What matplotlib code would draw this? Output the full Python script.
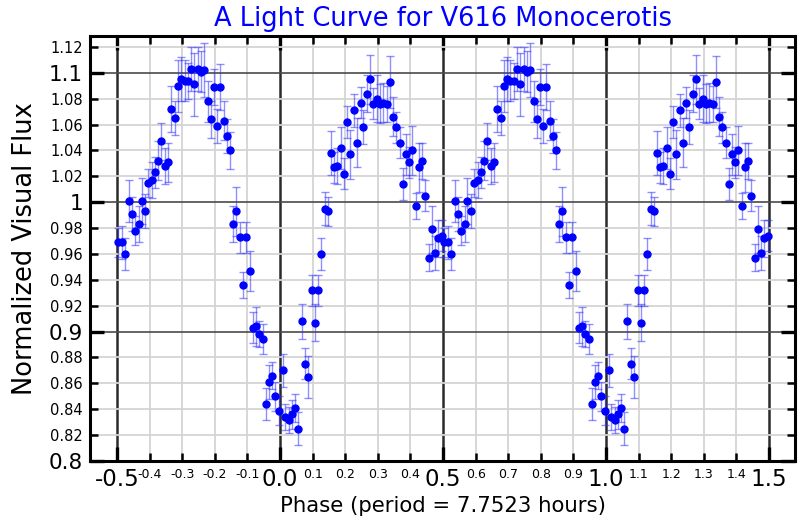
import numpy as np
import matplotlib
matplotlib.use("Agg")
import matplotlib.pyplot as plt
from matplotlib.ticker import FixedLocator, FixedFormatter

# ---- data: one period of the folded light curve (phase, flux, error) ----
phase = [0.008, 0.016, 0.027, 0.037, 0.046, 0.056, 0.066, 0.077, 0.087, 0.097,
         0.107, 0.117, 0.127, 0.137, 0.147, 0.157, 0.166, 0.176, 0.187, 0.196,
         0.206, 0.216, 0.226, 0.237, 0.247, 0.256, 0.266, 0.276, 0.286, 0.297,
         0.307, 0.317, 0.328, 0.337, 0.347, 0.357, 0.367, 0.377, 0.387, 0.396,
         0.406, 0.416, 0.426, 0.436, 0.445, 0.456, 0.466, 0.476, 0.486, 0.496,
         0.504, 0.514, 0.524, 0.536, 0.545, 0.556, 0.566, 0.575, 0.586, 0.596,
         0.606, 0.616, 0.626, 0.636, 0.647, 0.656, 0.666, 0.677, 0.687, 0.697,
         0.707, 0.717, 0.727, 0.737, 0.747, 0.757, 0.767, 0.778, 0.787, 0.797,
         0.807, 0.817, 0.827, 0.837, 0.847, 0.856, 0.866, 0.876, 0.886, 0.897,
         0.907, 0.916, 0.926, 0.936, 0.947, 0.956, 0.966, 0.976, 0.986, 0.996]
flux = [0.870, 0.834, 0.832, 0.836, 0.841, 0.825, 0.908, 0.875, 0.865, 0.932,
        0.907, 0.932, 0.960, 0.995, 0.993, 1.038, 1.027, 1.028, 1.042, 1.022,
        1.062, 1.037, 1.071, 1.046, 1.077, 1.058, 1.084, 1.095, 1.076, 1.080,
        1.076, 1.077, 1.076, 1.093, 1.066, 1.058, 1.046, 1.014, 1.037, 1.031,
        1.040, 0.997, 1.027, 1.032, 1.005, 0.957, 0.979, 0.961, 0.972, 0.974,
        0.969, 0.969, 0.960, 1.001, 0.991, 0.978, 0.983, 1.001, 0.993, 1.015,
        1.017, 1.023, 1.032, 1.047, 1.028, 1.031, 1.072, 1.065, 1.090, 1.095,
        1.094, 1.094, 1.103, 1.091, 1.103, 1.101, 1.102, 1.078, 1.064, 1.089,
        1.059, 1.089, 1.063, 1.051, 1.040, 0.983, 0.993, 0.973, 0.936, 0.973,
        0.947, 0.903, 0.904, 0.898, 0.894, 0.844, 0.861, 0.866, 0.850, 0.839]
err = [0.013, 0.010, 0.010, 0.011, 0.011, 0.0125, 0.0135, 0.012, 0.016, 0.012,
       0.014, 0.012, 0.0125, 0.0127, 0.011, 0.017, 0.012, 0.014, 0.016, 0.012,
       0.012, 0.019, 0.013, 0.019, 0.012, 0.013, 0.014, 0.019, 0.012, 0.018,
       0.015, 0.015, 0.014, 0.020, 0.015, 0.012, 0.012, 0.0125, 0.016, 0.012,
       0.019, 0.010, 0.019, 0.014, 0.012, 0.0105, 0.018, 0.013, 0.014, 0.012,
       0.011, 0.013, 0.012, 0.016, 0.013, 0.011, 0.014, 0.018, 0.013, 0.011,
       0.014, 0.012, 0.015, 0.014, 0.014, 0.015, 0.018, 0.013, 0.020, 0.017,
       0.016, 0.014, 0.017, 0.024, 0.017, 0.016, 0.021, 0.016, 0.014, 0.014,
       0.013, 0.018, 0.015, 0.013, 0.014, 0.014, 0.019, 0.012, 0.010, 0.012,
       0.0155, 0.012, 0.015, 0.010, 0.0115, 0.0127, 0.013, 0.0105, 0.011, 0.011]

x_major = [-0.5, 0.0, 0.5, 1.0, 1.5]
x_major_labels = ["-0.5", "0.0", "0.5", "1.0", "1.5"]
x_minor = [-0.4, -0.3, -0.2, -0.1, 0.1, 0.2, 0.3, 0.4, 0.6, 0.7, 0.8, 0.9,
           1.1, 1.2, 1.3, 1.4]
x_minor_labels = ["-0.4", "-0.3", "-0.2", "-0.1", "0.1", "0.2", "0.3", "0.4",
                  "0.6", "0.7", "0.8", "0.9", "1.1", "1.2", "1.3", "1.4"]
y_major = [0.8, 0.9, 1.0, 1.1]
y_major_labels = ["0.8", "0.9", "1", "1.1"]
y_minor = [0.82, 0.84, 0.86, 0.88, 0.92, 0.94, 0.96, 0.98, 1.02, 1.04, 1.06,
           1.08, 1.12]
y_minor_labels = ["0.82", "0.84", "0.86", "0.88", "0.92", "0.94", "0.96",
                  "0.98", "1.02", "1.04", "1.06", "1.08", "1.12"]

# ---- replicate the period over the plotted phase range ----
p = np.array(phase)
f = np.array(flux)
e = np.array(err)
xs = np.concatenate([p - 1, p, p + 1])
ys = np.concatenate([f, f, f])
es = np.concatenate([e, e, e])
keep = (xs >= -0.5) & (xs <= 1.5)
xs, ys, es = xs[keep], ys[keep], es[keep]

fig = plt.figure(figsize=(8, 5.2), dpi=100)
ax = fig.add_axes([0.1125, 0.1135, 0.8813, 0.8173])

ax.errorbar(xs, ys, yerr=es, fmt="none", ecolor=(0.2, 0.2, 1.0, 0.55),
            elinewidth=1.0, capsize=3, capthick=1.0, zorder=3)
ax.plot(xs, ys, "o", color="#0000ff", markersize=5, zorder=4)

ax.set_xlim(-0.583, 1.58)
ax.set_ylim(0.8, 1.1285)

ax.xaxis.set_major_locator(FixedLocator(x_major))
ax.xaxis.set_major_formatter(FixedFormatter(x_major_labels))
ax.xaxis.set_minor_locator(FixedLocator(x_minor))
ax.xaxis.set_minor_formatter(FixedFormatter(x_minor_labels))
ax.yaxis.set_major_locator(FixedLocator(y_major))
ax.yaxis.set_major_formatter(FixedFormatter(y_major_labels))
ax.yaxis.set_minor_locator(FixedLocator(y_minor))
ax.yaxis.set_minor_formatter(FixedFormatter(y_minor_labels))

ax.set_axisbelow(True)
ax.grid(which="minor", color="#d4d4d4", linewidth=1.3)
ax.grid(which="major", axis="x", color="#2a2a2a", linewidth=1.8)
ax.grid(which="major", axis="y", color="#4a4a4a", linewidth=1.2)

ax.tick_params(which="major", direction="in", top=True, right=True,
               length=10, width=2.4, color="black")
ax.tick_params(which="minor", direction="in", top=True, right=True,
               length=6, width=1.8, color="black")
ax.tick_params(axis="x", which="major", labelsize=16.5, pad=5)
ax.tick_params(axis="x", which="minor", labelsize=9, pad=5)
ax.tick_params(axis="y", which="major", labelsize=15.5, pad=5)
ax.tick_params(axis="y", which="minor", labelsize=10.5, pad=5)

for s in ax.spines.values():
    s.set_linewidth(2.2)
    s.set_color("black")

ax.set_title("A Light Curve for V616 Monocerotis", color="#0000ff",
             fontsize=18.5, pad=7)
ax.set_xlabel("Phase (period = 7.7523 hours)", fontsize=15.3, labelpad=4)
ax.set_ylabel("Normalized Visual Flux", fontsize=18.5, labelpad=8)

fig.savefig("out.png", dpi=100)
